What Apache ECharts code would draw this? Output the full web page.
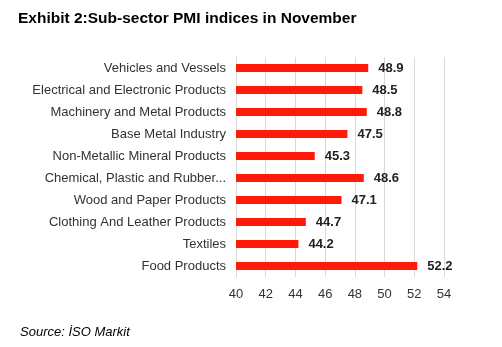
<!DOCTYPE html>
<html>
<head>
<meta charset="utf-8">
<script src="https://cdn.jsdelivr.net/npm/echarts@6/dist/echarts.min.js"></script>
<style>
  html, body { margin: 0; padding: 0; background: #fff; }
  #chart { width: 502px; height: 347px; }
</style>
</head>
<body>
<div id="chart"></div>
<script>
// Sub-sector PMI readings, listed top to bottom
const sectors = [
  'Vehicles and Vessels',
  'Electrical and Electronic Products',
  'Machinery and Metal Products',
  'Base Metal Industry',
  'Non-Metallic Mineral Products',
  'Chemical, Plastic and Rubber...',
  'Wood and Paper Products',
  'Clothing And Leather Products',
  'Textiles',
  'Food Products'
];
const pmi = [48.9, 48.5, 48.8, 47.5, 45.3, 48.6, 47.1, 44.7, 44.2, 52.2];
const axisMin = 40;
const axisMax = 54;
const axisStep = 2;

const chart = echarts.init(document.getElementById('chart'), null, { renderer: 'canvas' });
chart.setOption({
  animation: false,
  backgroundColor: '#ffffff',
  title: [
    {
      text: 'Exhibit 2:Sub-sector PMI indices in November',
      left: 13, top: 6,
      textStyle: { fontFamily: 'Liberation Sans', fontSize: 15.5, fontWeight: 'bold', color: '#000' }
    },
    {
      text: 'Source: İSO Markit',
      left: 15, top: 321,
      textStyle: { fontFamily: 'Liberation Sans', fontSize: 13, fontStyle: 'italic', fontWeight: 'normal', color: '#000' }
    }
  ],
  grid: { left: 236, right: 58, top: 57, bottom: 70, containLabel: false },
  xAxis: {
    type: 'value',
    min: axisMin, max: axisMax, interval: axisStep,
    axisLine: { show: false },
    axisTick: { show: false },
    axisLabel: { fontFamily: 'Liberation Sans', fontSize: 13, color: '#333', margin: 11 },
    splitLine: { show: true, lineStyle: { color: '#d9d9d9', width: 1 } }
  },
  yAxis: {
    type: 'category',
    inverse: true,
    data: sectors,
    axisLine: { show: true, lineStyle: { color: '#d9d9d9' } },
    axisTick: { show: false },
    axisLabel: { fontFamily: 'Liberation Sans', fontSize: 13, color: '#333', margin: 10 }
  },
  series: [{
    type: 'bar',
    data: pmi,
    barWidth: 8,
    itemStyle: { color: '#ff1a0a' },
    label: {
      show: true,
      position: 'right',
      distance: 10,
      fontFamily: 'Liberation Sans',
      fontSize: 13,
      fontWeight: 'bold',
      color: '#222',
      formatter: p => p.value.toFixed(1)
    }
  }]
});
</script>
</body>
</html>
